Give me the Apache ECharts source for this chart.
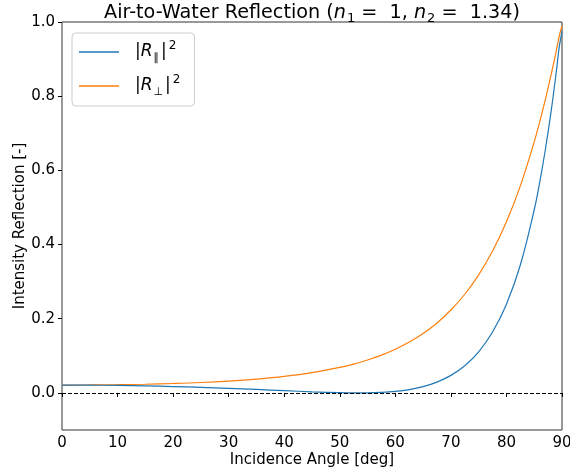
<!DOCTYPE html>
<html>
<head>
<meta charset="utf-8">
<script src="https://cdn.jsdelivr.net/npm/echarts@6/dist/echarts.min.js"></script>
<style>
html,body{margin:0;padding:0;background:#fff;}
#chart{width:570px;height:475px;}
</style>
</head>
<body>
<div id="chart"></div>
<script>
// Incidence angle (deg)
const angles = [0,5,10,15,20,25,30,35,40,45,50,52.5,55,57.5,60,62.5,65,67.5,70,72.5,75,77.5,80,82.5,85,86,87,88,89,89.5,90];
// |R_parallel|^2
const rParallel = [0.0211,0.0209,0.0202,0.0189,0.0172,0.0151,0.0124,0.0094,0.0061,0.0030,0.0006,0.00004,0.0002,0.0015,0.0042,0.0091,0.0171,0.0292,0.0473,0.0734,0.1109,0.1641,0.2392,0.3449,0.4938,0.5691,0.6556,0.7548,0.8689,0.9321,0.975];
// |R_perp|^2
const rPerp = [0.0211,0.0214,0.0221,0.0234,0.0254,0.0281,0.0320,0.0373,0.0445,0.0546,0.0687,0.0778,0.0888,0.1019,0.1178,0.1370,0.1603,0.1887,0.2235,0.2660,0.3182,0.3824,0.4612,0.5581,0.6769,0.7316,0.7909,0.8552,0.9247,0.9616,0.99];
const yTickValues = [0, 0.2, 0.4, 0.6, 0.8, 1.0];
const xTickValues = [0, 10, 20, 30, 40, 50, 60, 70, 80, 90];
const seriesNames = ['par', 'perp'];

const FONT = 'DejaVu Sans';
const chart = echarts.init(document.getElementById('chart'), null, {renderer: 'canvas'});

const legendRich = {
  a: {fontFamily: FONT, fontSize: 17, color: '#000', lineHeight: 24, verticalAlign: 'middle'},
  i: {fontFamily: FONT, fontSize: 17, fontStyle: 'italic', color: '#000', lineHeight: 24, verticalAlign: 'middle'},
  sub: {fontFamily: FONT, fontSize: 11, color: '#000', lineHeight: 24, verticalAlign: 'bottom', padding: [0, 2, 0, 1]},
  sup: {fontFamily: FONT, fontSize: 12, color: '#000', lineHeight: 24, verticalAlign: 'top', padding: [0, 0, 0, 2]}
};

chart.setOption({
  animation: false,
  backgroundColor: '#fff',
  grid: {left: 62, right: 8, top: 22, bottom: 45, containLabel: false, outerBoundsMode: 'none',
    show: true, borderColor: '#333', borderWidth: 1, backgroundColor: 'transparent'},
  graphic: [{
    type: 'text',
    x: 312, y: 1,
    style: {
      text: 'Air-to-Water Reflection ({i|n}{s|1}{t| =  1, }{i|n}{s|2}{t| =  1.34)}',
      align: 'center',
      verticalAlign: 'top',
      fontFamily: FONT, fontSize: 19.2, fill: '#000',
      rich: {
        i: {fontFamily: FONT, fontSize: 19.2, fontStyle: 'italic', lineHeight: 24, verticalAlign: 'middle'},
        t: {fontFamily: FONT, fontSize: 19.2, lineHeight: 24, verticalAlign: 'middle'},
        s: {fontFamily: FONT, fontSize: 13, lineHeight: 24, verticalAlign: 'bottom', padding: [0, 0, 0, 1]}
      }
    }
  }],
  legend: {
    orient: 'vertical',
    left: 72, top: 33,
    padding: [7, 14, 8, 7],
    itemWidth: 40, itemHeight: 1.5, itemGap: 10,
    icon: 'rect',
    backgroundColor: 'rgba(255,255,255,0.8)',
    borderColor: '#ccc', borderWidth: 1, borderRadius: 4,
    data: seriesNames,
    formatter: function (name) {
      return name === 'par'
        ? '{a||}{i|R}{sub|∥}{a||}{sup|2}'
        : '{a||}{i|R}{sub|⊥}{a||}{sup|2}';
    },
    textStyle: {rich: legendRich, padding: [0, 0, 0, 11]}
  },
  xAxis: {
    type: 'value', min: 0, max: 90, interval: 10,
    axisLine: {show: false},
    axisTick: {show: true, length: 4, inside: false, lineStyle: {color: '#000', width: 1}},
    axisLabel: {fontFamily: FONT, fontSize: 15, color: '#000', margin: 6},
    splitLine: {show: false},
    name: 'Incidence Angle [deg]', nameLocation: 'middle', nameGap: 23, nameMoveOverlap: false,
    nameTextStyle: {fontFamily: FONT, fontSize: 15, color: '#000'}
  },
  yAxis: {
    type: 'value', min: -0.1, max: 1.0,
    axisLine: {show: false},
    axisTick: {show: true, length: 4, inside: false, lineStyle: {color: '#000', width: 1}, customValues: yTickValues},
    axisLabel: {fontFamily: FONT, fontSize: 15, color: '#000', margin: 7, customValues: yTickValues,
      formatter: function (v) { return v.toFixed(1); }},
    splitLine: {show: false},
    name: 'Intensity Reflection [-]', nameLocation: 'middle', nameGap: 34, nameMoveOverlap: false,
    nameTextStyle: {fontFamily: FONT, fontSize: 15, color: '#000'}
  },
  series: [
    {
      name: 'par', type: 'line', symbol: 'none', smooth: 0.4,
      data: angles.map((a, k) => [a, rParallel[k]]),
      lineStyle: {color: '#1f77b4', width: 1.2},
      itemStyle: {color: '#1f77b4'},
      z: 3,
      markLine: {
        silent: true, symbol: 'none', label: {show: false},
        lineStyle: {color: '#000', type: [4, 2], width: 1},
        data: [{yAxis: 0}]
      }
    },
    {
      name: 'perp', type: 'line', symbol: 'none', smooth: 0.4,
      data: angles.map((a, k) => [a, rPerp[k]]),
      lineStyle: {color: '#ff7f0e', width: 1.2},
      itemStyle: {color: '#ff7f0e'},
      z: 2
    }
  ]
});
</script>
</body>
</html>
